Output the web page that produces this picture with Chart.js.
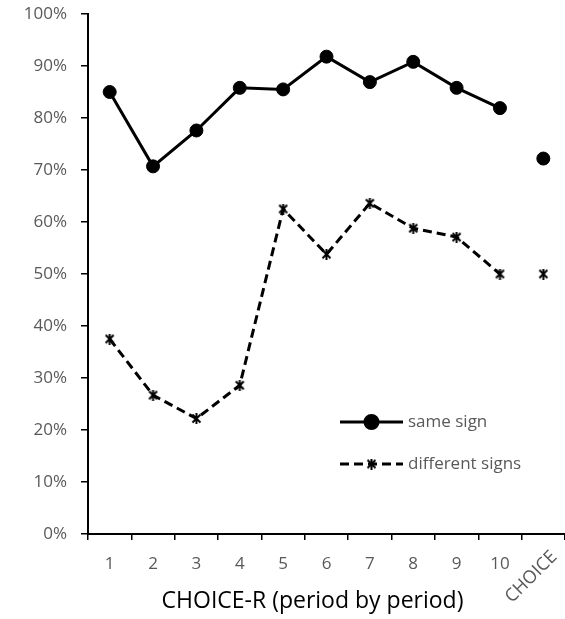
<!DOCTYPE html>
<html>
<head>
<meta charset="utf-8">
<script src="https://cdn.jsdelivr.net/npm/chart.js@4.4.1/dist/chart.umd.min.js"></script>
<style>
  html, body { margin: 0; padding: 0; background: #fff; overflow: hidden; }
  #wrap { width: 565px; height: 619px; }
</style>
</head>
<body>
<div id="wrap"><canvas id="chart"></canvas></div>
<script>
// data (percent)
var periods = ['1', '2', '3', '4', '5', '6', '7', '8', '9', '10', 'CHOICE'];
var sameSign = [85.0, 70.7, 77.6, 85.8, 85.5, 91.8, 86.9, 90.8, 85.8, 81.9, 72.2];
var differentSigns = [37.5, 26.7, 22.2, 28.6, 62.5, 53.8, 63.6, 58.8, 57.1, 50.0, 50.0];
var seriesNames = ['same sign', 'different signs'];
var xTitle = 'CHOICE-R (period by period)';
var yMin = 0, yMax = 100, yStep = 10;

var tickFont = { family: 'Open Sans', size: 17 };
var grey = '#595959';

// excel-like star marker: an x with a vertical bar
function makeStar(size) {
    var cv = document.createElement('canvas');
    cv.width = size; cv.height = size;
    var g = cv.getContext('2d');
    var m = 1.5, h = size / 2;
    g.strokeStyle = '#000';
    g.lineWidth = 2;
    g.beginPath();
    g.moveTo(m, m); g.lineTo(size - m, size - m);
    g.moveTo(size - m, m); g.lineTo(m, size - m);
    g.moveTo(h, 0); g.lineTo(h, size);
    g.stroke();
    return cv;
}
var starMark = makeStar(11);

// the CHOICE point stands on its own, no line going to it
function hideLastSegment(ctx) {
    return ctx.p1DataIndex === periods.length - 1 ? 'rgba(0,0,0,0)' : undefined;
}

// rotated CHOICE label, axis title and legend inside the plot
var extras = {
    id: 'extras',
    afterDraw: function(chart) {
        var c = chart.ctx;
        var x = chart.scales.x;
        var area = chart.chartArea;

        c.save();
        c.fillStyle = grey;
        c.font = '18px "Open Sans"';
        c.textAlign = 'center';
        c.textBaseline = 'middle';
        c.translate(x.getPixelForValue(periods.length - 1) - 12, x.top + 43);
        c.rotate(-Math.PI / 4);
        c.fillText(periods[periods.length - 1], 0, 0);
        c.restore();

        // x title (sits a bit left of the axis centre in the original)
        c.save();
        c.fillStyle = '#000';
        c.font = '23px "Open Sans"';
        c.textAlign = 'center';
        c.textBaseline = 'middle';
        c.fillText(xTitle, (x.left + x.right) / 2 - 14, x.top + 67);
        c.restore();

        // legend
        var lx = 340, lw = 63;
        var rows = [area.top + 408, area.top + 450];
        chart.data.datasets.forEach(function(ds, i) {
            var y = rows[i];
            c.save();
            c.strokeStyle = '#000';
            c.lineWidth = 3;
            c.setLineDash(ds.borderDash || []);
            c.beginPath();
            c.moveTo(lx, y);
            c.lineTo(lx + lw, y);
            c.stroke();
            c.setLineDash([]);
            c.fillStyle = '#000';
            c.strokeStyle = '#000';
            Chart.helpers.drawPoint(c, {
                pointStyle: ds.pointStyle,
                radius: ds.pointRadius,
                borderWidth: ds.pointBorderWidth
            }, lx + lw / 2, y);
            c.fillStyle = grey;
            c.font = '17px "Open Sans"';
            c.textAlign = 'left';
            c.textBaseline = 'middle';
            c.fillText(ds.label, lx + lw + 5, y);
            c.restore();
        });
    }
};

new Chart(document.getElementById('chart'), {
    type: 'line',
    data: {
        labels: periods,
        datasets: [{
            label: seriesNames[0],
            data: sameSign,
            borderColor: '#000',
            backgroundColor: '#000',
            borderWidth: 3,
            pointStyle: 'circle',
            pointRadius: 6.5,
            pointBorderWidth: 1,
            pointBackgroundColor: '#000',
            pointBorderColor: '#000',
            segment: { borderColor: hideLastSegment }
        }, {
            label: seriesNames[1],
            data: differentSigns,
            borderColor: '#000',
            backgroundColor: '#000',
            borderWidth: 3,
            borderDash: [9, 5],
            pointStyle: starMark,
            pointRadius: 5,
            pointBorderWidth: 2,
            pointBorderColor: '#000',
            segment: { borderColor: hideLastSegment }
        }]
    },
    options: {
        responsive: true,
        maintainAspectRatio: false,
        animation: false,
        layout: { autoPadding: false, padding: { top: 14, right: 0, left: 0, bottom: 0 } },
        plugins: {
            legend: { display: false },
            tooltip: { enabled: false }
        },
        scales: {
            x: {
                offset: true,
                grid: {
                    offset: true,
                    drawOnChartArea: false,
                    drawTicks: true,
                    tickLength: 6,
                    color: '#000',
                    lineWidth: 1.5
                },
                border: { display: true, color: '#000', width: 2 },
                ticks: {
                    autoSkip: false,
                    maxRotation: 0,
                    minRotation: 0,
                    padding: 14,
                    color: grey,
                    font: tickFont,
                    callback: function(v, i) {
                        return i === periods.length - 1 ? '' : periods[i];
                    }
                },
                afterFit: function(s) {
                    s.height = 85;
                    s.paddingLeft = 0;
                    s.paddingRight = 0;
                }
            },
            y: {
                min: yMin,
                max: yMax,
                grid: {
                    drawOnChartArea: false,
                    drawTicks: true,
                    tickLength: 7,
                    color: '#000',
                    lineWidth: 1.5
                },
                border: { display: true, color: '#000', width: 2 },
                ticks: {
                    stepSize: yStep,
                    padding: 14,
                    color: grey,
                    font: tickFont,
                    callback: function(v) { return v + '%'; }
                },
                afterFit: function(s) {
                    s.width = 88;
                    s.paddingTop = 0;
                    s.paddingBottom = 0;
                }
            }
        }
    },
    plugins: [extras]
});
</script>
</body>
</html>
